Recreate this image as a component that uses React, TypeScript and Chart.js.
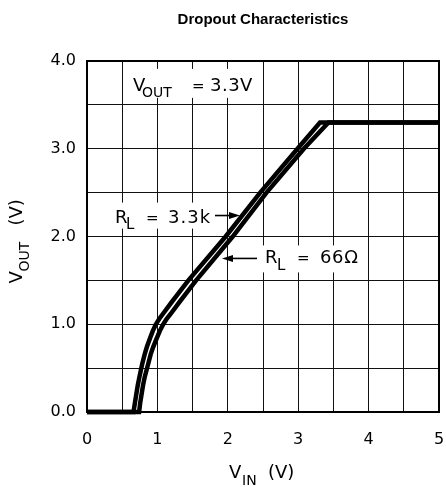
import React, { useEffect, useRef } from 'react';
import { Chart, registerables } from 'chart.js';

Chart.register(...registerables);

// ---- data ----
const xTickLabels = ['0', '1', '2', '3', '4', '5'];
const yTickLabels = ['0.0', '1.0', '2.0', '3.0', '4.0'];

// R_L = 3.3k curve
const vin33k = [0, 0.66, 0.68, 0.70, 0.72, 0.745, 0.785, 0.82, 0.85, 0.895, 0.935, 0.975, 1.025, 1.08, 1.2, 1.32, 1.44, 1.97, 2.46, 2.99, 3.31, 5];
const vout33k = [0, 0, 0.1, 0.2, 0.3, 0.4, 0.55, 0.66, 0.74, 0.84, 0.925, 0.995, 1.06, 1.12, 1.25, 1.375, 1.5, 2.0, 2.5, 3.0, 3.3, 3.3];

// R_L = 66 ohm curve
const vin66 = [0, 0.74, 0.755, 0.775, 0.795, 0.82, 0.87, 0.905, 0.94, 0.99, 1.035, 1.08, 1.13, 1.19, 1.31, 1.43, 1.55, 2.07, 2.55, 3.08, 3.43, 5];
const vout66 = [0, 0, 0.1, 0.2, 0.3, 0.4, 0.55, 0.66, 0.74, 0.84, 0.925, 0.995, 1.06, 1.12, 1.25, 1.375, 1.5, 2.0, 2.5, 3.0, 3.3, 3.3];

const titleText = 'Dropout Characteristics';

// ---- styles / annotation placement ----
const FONT = '"DejaVu Sans", "Liberation Sans", sans-serif';
const MAIN = 18;
const SUB = 15;

type Part = { t: string; dx: number; sub?: boolean; sp?: number; size?: number };
type Label = { x: number; y: number; parts: Part[]; box: [number, number, number, number] };

const labels: Label[] = [
  {
    x: 0.653, y: 3.659,
    box: [0.526, 2.472, 3.91, 3.58],
    parts: [
      { t: 'V', dx: 0 },
      { t: 'OUT', dx: 9, sub: true, sp: 0, size: 14 },
      { t: '=', dx: 59, size: 15 },
      { t: '3.3V', dx: 77, sp: 0.5 },
    ],
  },
  {
    x: 0.398, y: 2.159,
    box: [0.355, 1.918, 2.386, 2.09],
    parts: [
      { t: 'R', dx: 0 },
      { t: 'L', dx: 11, sub: true },
      { t: '=', dx: 31, size: 15 },
      { t: '3.3k', dx: 53, sp: 1 },
    ],
  },
  {
    x: 2.528, y: 1.693,
    box: [2.429, 3.935, 1.898, 1.591],
    parts: [
      { t: 'R', dx: 0 },
      { t: 'L', dx: 12, sub: true },
      { t: '=', dx: 32, size: 15 },
      { t: '66\u03A9', dx: 55, sp: 0.7 },
    ],
  },
];

const arrows = [
  { x0: 1.818, x1: 2.173, y: 2.239 },
  { x0: 2.415, x1: 1.918, y: 1.75 },
];

function drawParts(ctx: CanvasRenderingContext2D, x: number, y: number, parts: Part[]) {
  ctx.fillStyle = '#000';
  ctx.textAlign = 'left';
  ctx.textBaseline = 'alphabetic';
  for (const p of parts) {
    const size = p.size ?? (p.sub ? SUB : MAIN);
    ctx.font = `${size}px ${FONT}`;
    (ctx as any).letterSpacing = `${p.sp ?? 0}px`;
    ctx.fillText(p.t, x + p.dx, p.sub ? y + 6.5 : y);
  }
  (ctx as any).letterSpacing = '0px';
}

const annotationPlugin = {
  id: 'annot',
  beforeDatasetsDraw(chart: any) {
    const { ctx, scales } = chart;
    const xs = scales.x, ys = scales.y;
    ctx.save();
    for (const l of labels) {
      const [bx0, bx1, by0, by1] = l.box;
      const px0 = xs.getPixelForValue(bx0), px1 = xs.getPixelForValue(bx1);
      const py0 = ys.getPixelForValue(by0), py1 = ys.getPixelForValue(by1);
      ctx.fillStyle = '#fff';
      ctx.fillRect(px0, py0, px1 - px0, py1 - py0);
      drawParts(ctx, xs.getPixelForValue(l.x), ys.getPixelForValue(l.y), l.parts);
    }
    ctx.restore();
  },
  afterDatasetsDraw(chart: any) {
    const { ctx, scales, chartArea } = chart;
    const xs = scales.x, ys = scales.y;
    ctx.save();
    ctx.strokeStyle = '#000';
    ctx.fillStyle = '#000';
    ctx.lineWidth = 1.6;
    for (const a of arrows) {
      const x0 = xs.getPixelForValue(a.x0), x1 = xs.getPixelForValue(a.x1);
      const y = ys.getPixelForValue(a.y);
      const dir = Math.sign(x1 - x0);
      ctx.beginPath();
      ctx.moveTo(x0, y);
      ctx.lineTo(x1 - dir * 8, y);
      ctx.stroke();
      ctx.beginPath();
      ctx.moveTo(x1, y);
      ctx.lineTo(x1 - dir * 11, y - 3.5);
      ctx.lineTo(x1 - dir * 11, y + 3.5);
      ctx.closePath();
      ctx.fill();
    }
    ctx.lineWidth = 2;
    ctx.strokeRect(chartArea.left, chartArea.top, chartArea.right - chartArea.left, chartArea.bottom - chartArea.top);
    ctx.restore();
  },
  afterDraw(chart: any) {
    const { ctx, chartArea } = chart;
    const cx = (chartArea.left + chartArea.right) / 2;
    const cy = (chartArea.top + chartArea.bottom) / 2;
    ctx.save();
    ctx.fillStyle = '#000';
    ctx.font = `bold 15px "Liberation Sans", Arial, sans-serif`;
    ctx.textAlign = 'center';
    ctx.textBaseline = 'alphabetic';
    ctx.fillText(titleText, cx, 24);
    drawParts(ctx, cx - 34, chartArea.bottom + 66, [
      { t: 'V', dx: 0 },
      { t: 'IN', dx: 13, sub: true, size: 14 },
      { t: '(V)', dx: 39 },
    ]);
    ctx.translate(22, cy + 47);
    ctx.rotate(-Math.PI / 2);
    drawParts(ctx, 0, 0, [
      { t: 'V', dx: 0 },
      { t: 'OUT', dx: 12, sub: true, size: 14 },
      { t: '(V)', dx: 58 },
    ]);
    ctx.restore();
  },
};

export default function App() {
  const ref = useRef<HTMLCanvasElement | null>(null);

  useEffect(() => {
    document.body.style.margin = '0';
    const canvas = ref.current;
    if (!canvas) return;
    const mk = (xs: number[], ys: number[]) => xs.map((x, i) => ({ x, y: ys[i] }));
    const lineStyle = {
      borderColor: '#000',
      borderWidth: 4.5,
      pointRadius: 0,
      tension: 0,
      fill: false,
      borderJoinStyle: 'miter' as const,
      clip: 6,
    };
    const chart = new Chart(canvas, {
      type: 'line',
      data: {
        datasets: [
          { label: 'RL = 3.3k', data: mk(vin33k, vout33k), ...lineStyle },
          { label: 'RL = 66Ω', data: mk(vin66, vout66), ...lineStyle },
        ],
      },
      options: {
        responsive: false,
        animation: false,
        events: [],
        layout: { padding: { top: 61, left: 0, right: 7, bottom: 0 } },
        plugins: {
          legend: { display: false },
          title: { display: false },
          tooltip: { enabled: false },
        },
        scales: {
          x: {
            type: 'linear',
            min: 0,
            max: 5,
            afterFit: (s: any) => { s.height = 75; s.paddingLeft = 0; s.paddingRight = 0; },
            border: { display: false },
            grid: { color: '#111', lineWidth: 1, drawTicks: false },
            ticks: {
              stepSize: 0.5,
              autoSkip: false,
              maxRotation: 0,
              padding: 18,
              color: '#000',
              font: { family: FONT, size: 16 },
              callback: (v: any) => (Number.isInteger(v) ? xTickLabels[v] : ''),
            },
          },
          y: {
            type: 'linear',
            min: 0,
            max: 4,
            afterFit: (s: any) => { s.width = 87; s.paddingTop = 0; s.paddingBottom = 0; },
            border: { display: false },
            grid: { color: '#111', lineWidth: 1, drawTicks: false },
            ticks: {
              stepSize: 0.5,
              autoSkip: false,
              padding: 11,
              color: '#000',
              font: { family: FONT, size: 16 },
              callback: (v: any) => (Number.isInteger(v) ? yTickLabels[v] : ''),
            },
          },
        },
      },
      plugins: [annotationPlugin],
    });
    return () => chart.destroy();
  }, []);

  return (
    <div style={{ width: 446, height: 487 }}>
      <canvas ref={ref} width={446} height={487} style={{ display: 'block' }} />
    </div>
  );
}
